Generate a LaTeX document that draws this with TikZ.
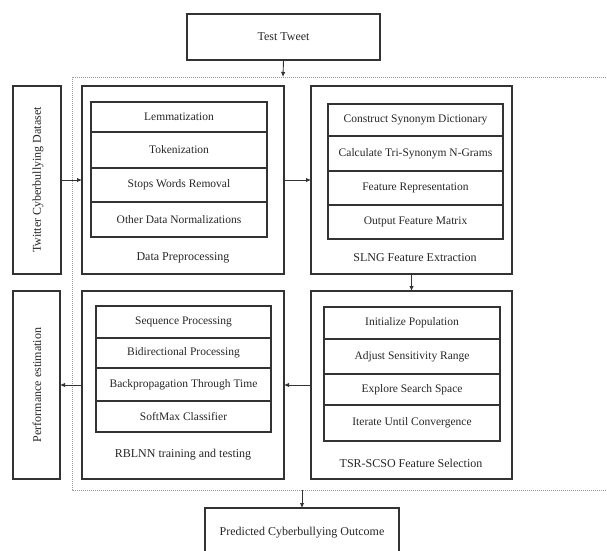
\documentclass[tikz,border=0pt]{standalone}
\usepackage{fontspec}
\setmainfont{Liberation Serif}
\usetikzlibrary{fit,arrows.meta}
\definecolor{ln}{HTML}{333333}
\tikzset{
  box/.style={draw=ln, line width=1.3pt, inner sep=0pt, outer sep=0pt},
  rowbox/.style={draw=ln, line width=1.2pt, inner sep=0pt, outer sep=0pt},
  lab/.style={font=\fontsize{12}{14}\selectfont, text=black!85},
  rlab/.style={font=\fontsize{11.5}{13}\selectfont, text=black!85},
  arr/.style={draw=ln, line width=0.9pt, -{Latex[length=5pt,width=4.5pt]}},
  dotbox/.style={draw=gray!80, line width=1pt, densely dotted}
}
\begin{document}
\begin{tikzpicture}[x=1pt,y=-1pt, font=\fontsize{12}{14}\selectfont]
\useasboundingbox (0,0) rectangle (607,550);
\clip (0,0) rectangle (607,550);
% dotted enclosure
\draw[dotbox] (612,77) -- (72,77) -- (72,490) -- (612,490);
\coordinate (dtop) at (283,77);
\coordinate (dbot) at (302,490);
% top / bottom boxes
\node[box, fit={(187,14) (380,60)}] (tt) {};
\node[lab] at (tt.center) (ttl) {Test Tweet};
\node[box, fit={(205,508) (399,560)}] (po) {};
\node[lab] at (302,533) (pol) {Predicted Cyberbullying Outcome};
% side boxes
\node[box, fit={(13,86) (61,274)}] (tw) {};
\node[lab, rotate=90] at (38,180) (twl) {Twitter Cyberbullying Dataset};
\node[box, fit={(13,291) (60,479)}] (pe) {};
\node[lab, rotate=90] at (37,385) (pel) {Performance estimation};
% main boxes
\node[box, fit={(82,86) (284,274)}] (dp) {};
\node[box, fit={(311,86) (512,274)}] (sl) {};
\node[box, fit={(82,291) (284,479)}] (rb) {};
\node[box, fit={(311,291) (512,479)}] (ts) {};
\node[lab] at (183,258) (dpl) {Data Preprocessing};
\node[lab] at (415,258) (sll) {SLNG Feature Extraction};
\node[lab] at (183,455) (rbl) {RBLNN training and testing};
\node[lab] at (411,463) (tsl) {TSR-SCSO Feature Selection};
% Data preprocessing rows
\node[rowbox, fit={(91,102) (267,132)}] (d1) {};
\node[rowbox, fit={(91,132) (267,168)}] (d2) {};
\node[rowbox, fit={(91,168) (267,202)}] (d3) {};
\node[rowbox, fit={(91,202) (267,237)}] (d4) {};
\node[rlab] at (d1.center) (d1l) {Lemmatization};
\node[rlab] at (d2.center) (d2l) {Tokenization};
\node[rlab] at (d3.center) (d3l) {Stops Words Removal};
\node[rlab] at (d4.center) (d4l) {Other Data Normalizations};
% SLNG rows
\node[rowbox, fit={(328,104) (503,136)}] (s1) {};
\node[rowbox, fit={(328,136) (503,171)}] (s2) {};
\node[rowbox, fit={(328,171) (503,205)}] (s3) {};
\node[rowbox, fit={(328,205) (503,239)}] (s4) {};
\node[rlab] at (s1.center) (s1l) {Construct Synonym Dictionary};
\node[rlab] at (s2.center) (s2l) {Calculate Tri-Synonym N-Grams};
\node[rlab] at (s3.center) (s3l) {Feature Representation};
\node[rlab] at (s4.center) (s4l) {Output Feature Matrix};
% RBLNN rows
\node[rowbox, fit={(96,306) (271,338)}] (b1) {};
\node[rowbox, fit={(96,338) (271,368)}] (b2) {};
\node[rowbox, fit={(96,368) (271,401)}] (b3) {};
\node[rowbox, fit={(96,401) (271,432)}] (b4) {};
\node[rlab] at (b1.center) (b1l) {Sequence Processing};
\node[rlab] at (b2.center) (b2l) {Bidirectional Processing};
\node[rlab] at (b3.center) (b3l) {Backpropagation Through Time};
\node[rlab] at (b4.center) (b4l) {SoftMax Classifier};
% TSR rows
\node[rowbox, fit={(324,307) (500,339)}] (t1) {};
\node[rowbox, fit={(324,339) (500,374)}] (t2) {};
\node[rowbox, fit={(324,374) (500,405)}] (t3) {};
\node[rowbox, fit={(324,405) (500,441)}] (t4) {};
\node[rlab] at (t1.center) (t1l) {Initialize Population};
\node[rlab] at (t2.center) (t2l) {Adjust Sensitivity Range};
\node[rlab] at (t3.center) (t3l) {Explore Search Space};
\node[rlab] at (t4.center) (t4l) {Iterate Until Convergence};
% connectors
\draw[arr] (tt.south) -- (dtop);
\draw[arr] (tw.east) -- (dp.west);
\draw[arr] (dp.east) -- (sl.west);
\draw[arr] (sl.south) -- (ts.north);
\draw[arr] (ts.west) -- (rb.east);
\draw[arr] (rb.west) -- (pe.east);
\draw[arr] (dbot) -- (po.north);
\end{tikzpicture}
\end{document}
